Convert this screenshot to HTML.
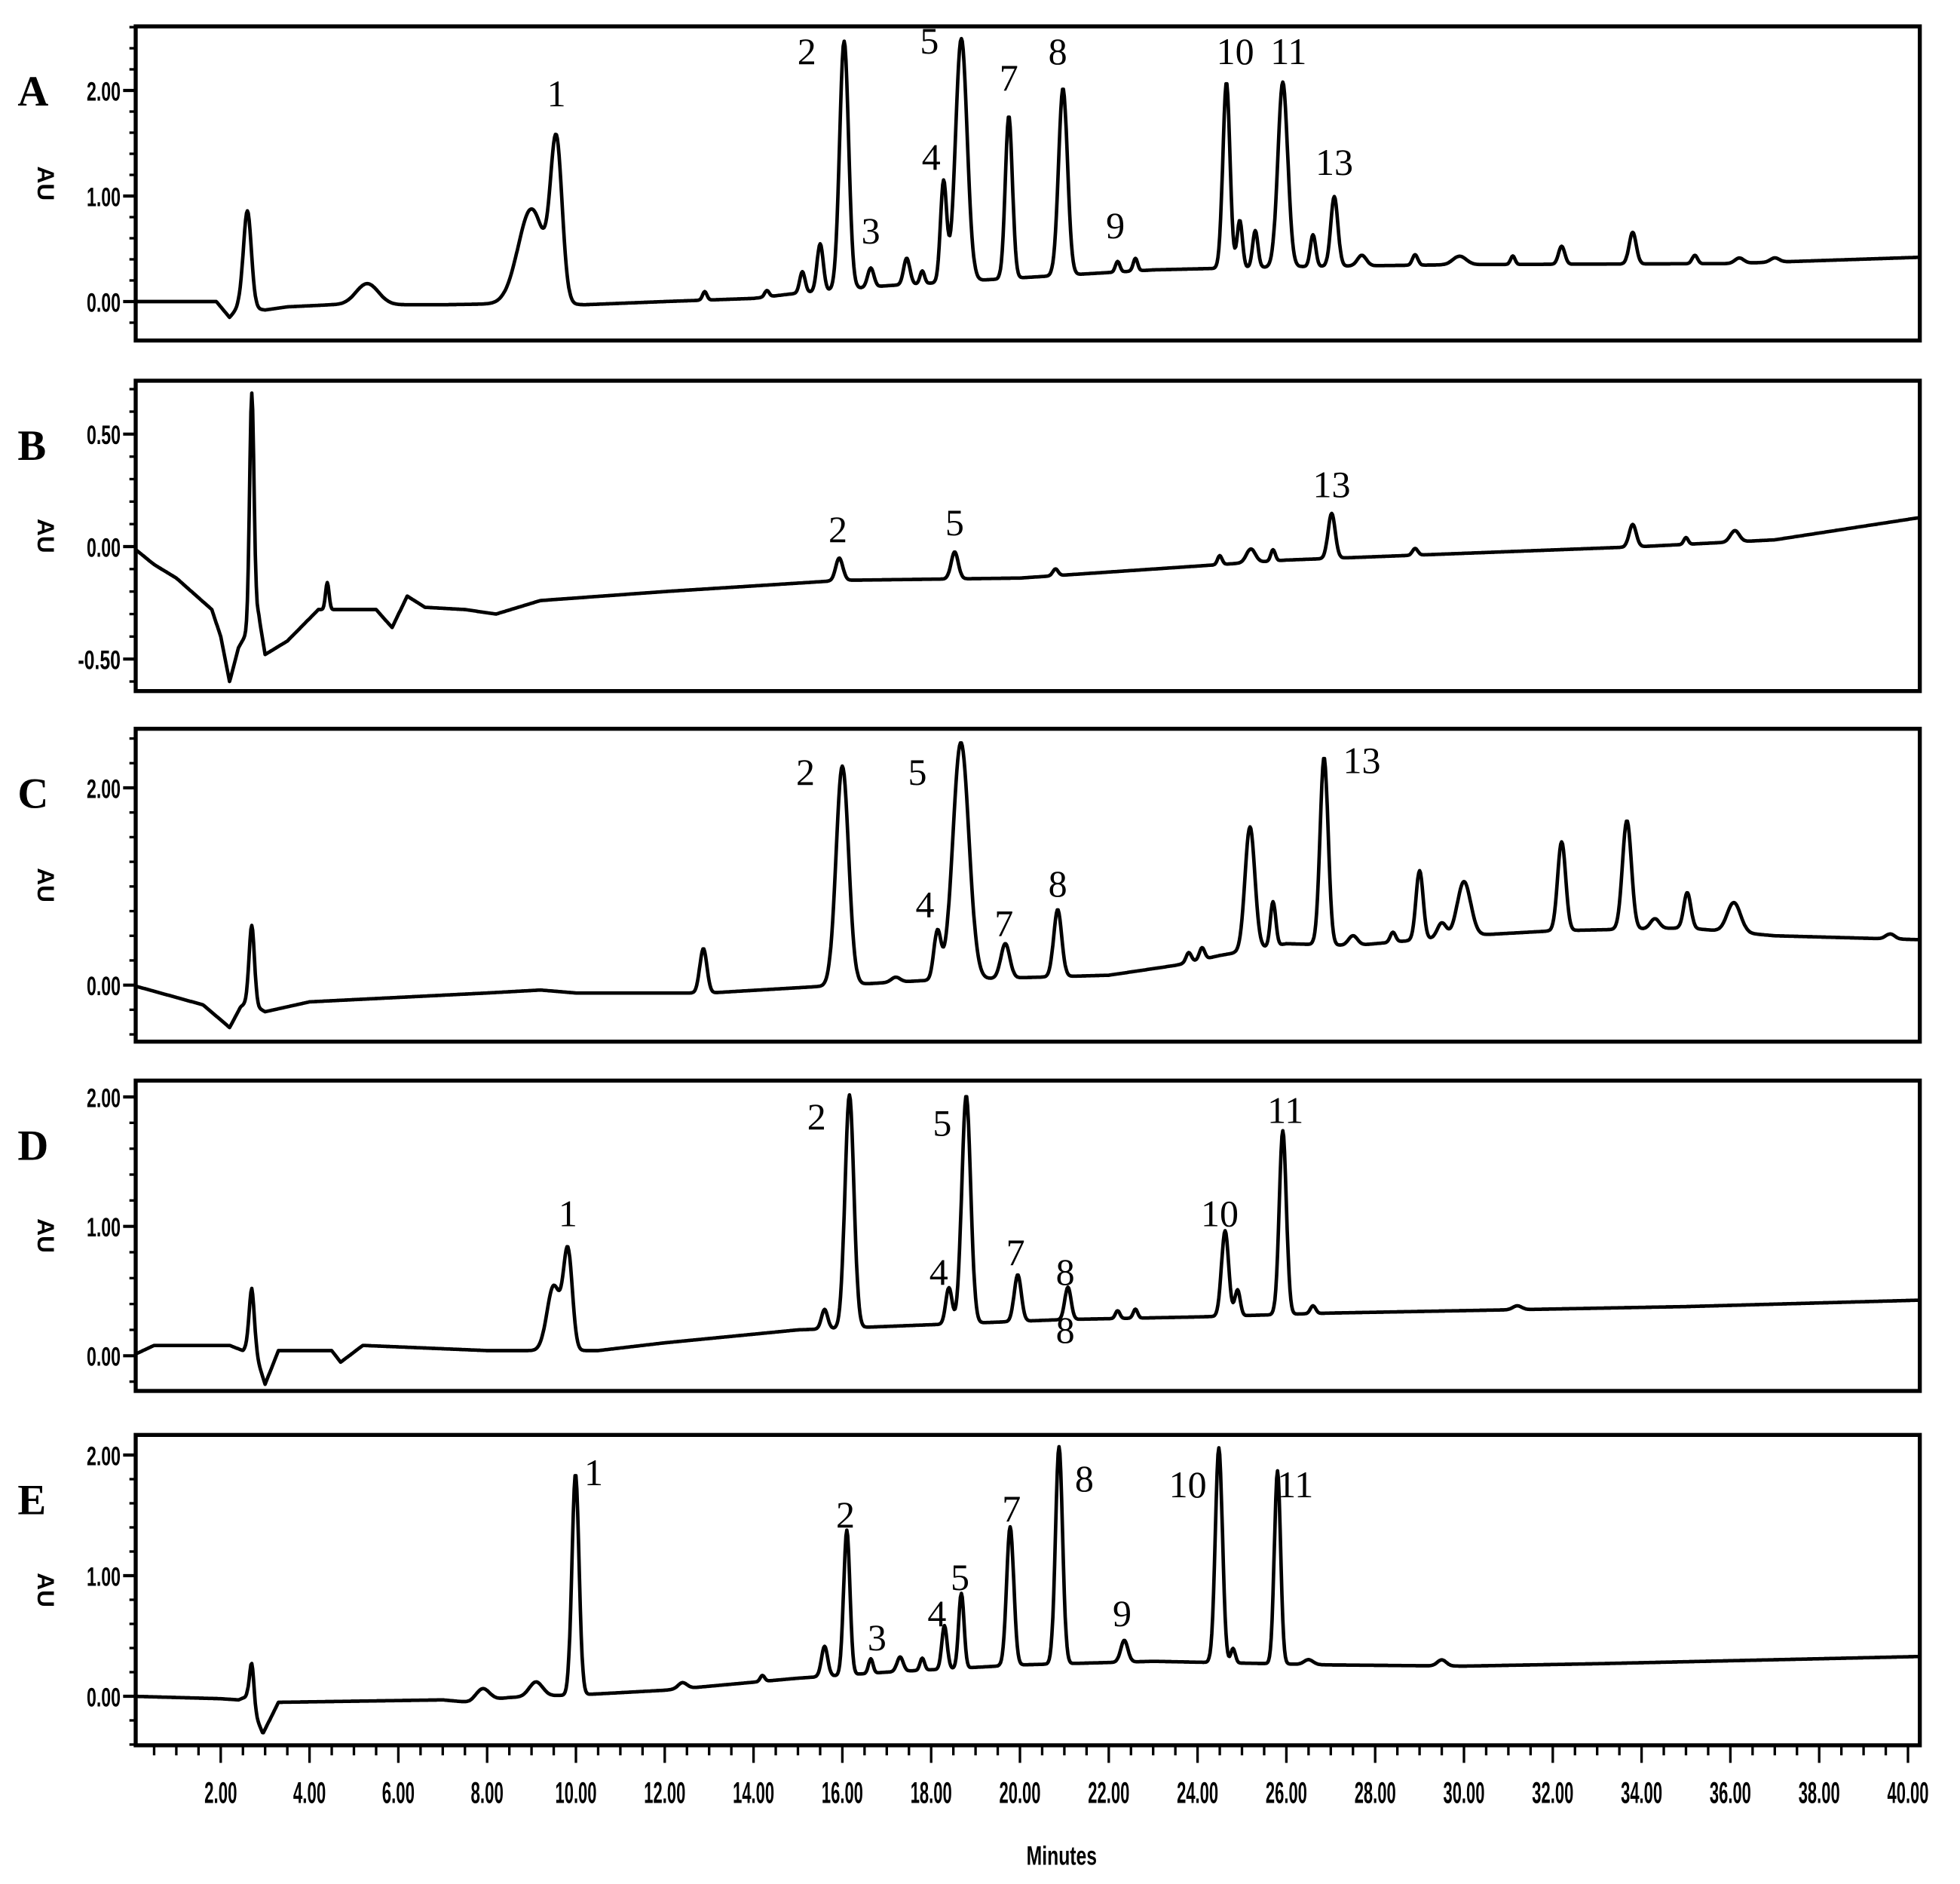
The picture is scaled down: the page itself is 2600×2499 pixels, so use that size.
<!DOCTYPE html>
<html><head><meta charset="utf-8"><style>
html,body{margin:0;padding:0;background:#fff;}
svg{display:block;}
text{font-family:"Liberation Sans",sans-serif;}
.num{font-weight:bold;fill:#000;}
.pk{font-family:"Liberation Serif",serif;font-size:30px;fill:#000;}
.pl{font-family:"Liberation Serif",serif;font-size:34px;font-weight:bold;fill:#000;}
</style></head><body>
<svg id="chart" width="2600" height="2499" viewBox="0 0 1560 1499.4" preserveAspectRatio="none" xmlns="http://www.w3.org/2000/svg"></svg>
<script>
// ---- data ----
const panelLetters = ["A","B","C","D","E"];
const baseA = [[0,0],[1.9,0],[2.2,-0.15],[2.4,-0.05],[3.0,-0.08],[3.5,-0.05],[4.5,-0.03],[7,-0.03],[8.5,-0.02],[10.2,-0.03],[12,0.0],[14,0.03],[15,0.08],[17,0.15],[19,0.2],[21,0.25],[23,0.3],[26,0.33],[30,0.35],[36,0.36],[40.3,0.42]];
const peaksA = [[2.6,0.92,0.09],[5.3,0.2,0.25],[9.0,0.9,0.3],[9.56,1.45,0.13],[12.9,0.08,0.05],[14.3,0.06,0.05],[15.1,0.2,0.06],[15.5,0.45,0.07],[16.04,2.35,0.1],[16.64,0.18,0.07],[17.45,0.25,0.07],[17.8,0.12,0.05],[18.28,0.95,0.07],[18.68,2.3,0.13],[19.75,1.54,0.08],[20.97,1.77,0.1],[22.2,0.1,0.05],[22.6,0.12,0.05],[24.65,1.76,0.08],[24.95,0.45,0.06],[25.3,0.35,0.06],[25.92,1.75,0.11],[26.6,0.3,0.06],[27.08,0.66,0.08],[27.7,0.1,0.1],[28.9,0.1,0.06],[29.9,0.08,0.15],[31.1,0.08,0.05],[32.2,0.17,0.07],[33.8,0.3,0.08],[35.2,0.08,0.06],[36.2,0.05,0.1],[37.0,0.04,0.1]];
const baseB = [[0,0],[0.5,-0.08],[1,-0.14],[1.8,-0.28],[2.0,-0.4],[2.2,-0.6],[2.4,-0.45],[2.6,-0.38],[2.85,-0.3],[3.0,-0.48],[3.5,-0.42],[4.2,-0.28],[5.5,-0.28],[5.86,-0.36],[6.2,-0.22],[6.6,-0.27],[7.5,-0.28],[8.2,-0.3],[9.2,-0.24],[12,-0.2],[16,-0.15],[20,-0.14],[23,-0.1],[26,-0.06],[30,-0.03],[34,0.0],[37,0.03],[40.3,0.13]];
const peaksB = [[2.7,1.03,0.05],[4.4,0.12,0.04],[15.93,0.1,0.08],[18.53,0.12,0.08],[20.8,0.03,0.06],[24.5,0.04,0.05],[25.2,0.06,0.1],[25.7,0.05,0.05],[27.02,0.2,0.08],[28.9,0.03,0.06],[33.8,0.1,0.08],[35.0,0.03,0.05],[36.1,0.05,0.1]];
const baseC = [[0,0],[1.6,-0.2],[2.2,-0.43],[2.45,-0.22],[2.6,-0.17],[3.0,-0.27],[4,-0.17],[8,-0.08],[9.2,-0.05],[10,-0.08],[13,-0.08],[16,0],[18,0.05],[22,0.1],[23.5,0.2],[24.5,0.3],[26,0.42],[27.5,0.4],[30,0.5],[32,0.55],[35,0.58],[37,0.5],[40.3,0.46]];
const peaksC = [[2.7,0.8,0.06],[12.87,0.45,0.08],[16.0,2.22,0.14],[17.2,0.05,0.1],[18.14,0.48,0.08],[18.67,2.4,0.18],[19.67,0.35,0.1],[20.85,0.68,0.09],[23.8,0.1,0.06],[24.1,0.12,0.06],[25.18,1.25,0.11],[25.7,0.45,0.06],[26.85,1.9,0.09],[27.5,0.1,0.1],[28.4,0.1,0.06],[29.0,0.7,0.08],[29.5,0.15,0.1],[30.0,0.55,0.15],[32.2,0.9,0.09],[33.67,1.1,0.1],[34.3,0.1,0.1],[35.03,0.36,0.08],[36.08,0.3,0.15],[39.6,0.05,0.1]];
const baseD = [[0,0],[0.5,0.08],[2.2,0.08],[2.5,0.04],[2.7,0.1],[3.0,-0.22],[3.3,0.04],[4.5,0.04],[4.7,-0.05],[5.2,0.08],[8,0.04],[10.5,0.04],[12,0.1],[15,0.2],[18,0.24],[21,0.28],[24,0.3],[27,0.33],[35,0.38],[40.3,0.43]];
const peaksD = [[2.7,0.42,0.06],[9.5,0.5,0.15],[9.82,0.75,0.1],[15.6,0.15,0.07],[16.16,1.8,0.1],[18.4,0.28,0.07],[18.79,1.76,0.1],[19.95,0.36,0.08],[21.08,0.25,0.07],[22.2,0.06,0.05],[22.6,0.07,0.05],[24.62,0.66,0.08],[24.9,0.2,0.06],[25.92,1.42,0.08],[26.6,0.06,0.06],[31.2,0.03,0.1]];
const baseE = [[0,0],[2,-0.02],[2.4,-0.03],[2.6,0],[2.95,-0.31],[3.3,-0.05],[7,-0.03],[7.6,-0.05],[8.5,-0.01],[10.5,0.02],[12,0.05],[15,0.15],[17,0.2],[20,0.26],[23,0.29],[27,0.26],[30,0.25],[33,0.27],[40.3,0.33]];
const peaksE = [[2.7,0.36,0.05],[7.9,0.1,0.15],[9.1,0.12,0.15],[9.99,1.83,0.08],[12.4,0.05,0.1],[14.2,0.05,0.05],[15.6,0.25,0.07],[16.1,1.2,0.07],[16.64,0.12,0.05],[17.3,0.12,0.07],[17.8,0.1,0.05],[18.3,0.36,0.06],[18.68,0.62,0.06],[19.78,1.15,0.08],[20.88,1.8,0.08],[22.35,0.18,0.08],[24.48,1.78,0.08],[24.8,0.12,0.05],[25.8,1.6,0.07],[26.5,0.04,0.1],[29.5,0.05,0.1]];
const yTicksA = [0,1,2], yTicksB = [-0.5,0,0.5], yTicksC = [0,2], yTicksD = [0,1,2], yTicksE = [0,1,2];
const xTicks = [2,4,6,8,10,12,14,16,18,20,22,24,26,28,30,32,34,36,38,40];
// peak labels: [label, time, AU]
const labA = [["1",9.56,1.85],["2",15.2,2.25],["3",16.64,0.55],["4",18.0,1.25],["5",17.96,2.35],["7",19.75,2.0],["8",20.85,2.25],["9",22.15,0.6],["10",24.85,2.25],["11",26.05,2.25],["13",27.08,1.2]];
const labB = [["2",15.9,0.02],["5",18.53,0.05],["13",27.02,0.22]];
const labC = [["2",15.17,2.03],["5",17.69,2.03],["4",17.86,0.69],["7",19.64,0.5],["8",20.85,0.9],["13",27.7,2.15]];
const labD = [["1",9.82,1.0],["2",15.42,1.75],["5",18.25,1.7],["4",18.17,0.55],["7",19.9,0.7],["8",21.02,0.55],["8",21.02,0.1],["10",24.5,1.0],["11",25.98,1.8]];
const labE = [["1",10.4,1.75],["2",16.07,1.4],["3",16.78,0.38],["4",18.13,0.58],["5",18.65,0.88],["7",19.81,1.45],["8",21.45,1.7],["9",22.3,0.58],["10",23.78,1.65],["11",26.2,1.65]];

// ---- geometry ----
const panels = [
 {base:baseA,peaks:peaksA,ticks:yTicksA,labs:labA,top:21,bot:271,zero:240,k:84,minor:0.2},
 {base:baseB,peaks:peaksB,ticks:yTicksB,labs:labB,top:303,bot:550,zero:435,k:179,minor:0.1},
 {base:baseC,peaks:peaksC,ticks:yTicksC,labs:labC,top:580,bot:829,zero:784,k:78.5,minor:0.25},
 {base:baseD,peaks:peaksD,ticks:yTicksD,labs:labD,top:860,bot:1107,zero:1079,k:103,minor:0.2},
 {base:baseE,peaks:peaksE,ticks:yTicksE,labs:labE,top:1142,bot:1389,zero:1350,k:96,minor:0.2}
];
const L=108, R=1528;
const xs = t => 105 + 35.34*t;
const NS="http://www.w3.org/2000/svg";
const svg=document.getElementById('chart');
function mk(tag,attrs,parent){const e=document.createElementNS(NS,tag);for(const k in attrs)e.setAttribute(k,attrs[k]);(parent||svg).appendChild(e);return e;}
function interp(b,t){for(let i=0;i<b.length-1;i++){if(t<=b[i+1][0]){const f=(t-b[i][0])/(b[i+1][0]-b[i][0]);return b[i][1]+f*(b[i+1][1]-b[i][1]);}}return b[b.length-1][1];}
const fmt=v=>(v<0?"-":"")+Math.abs(v).toFixed(2);

panels.forEach((p,pi)=>{
 const ys=v=>p.zero-p.k*v;
 const g=mk('g',{});
 
 
 const cid='clip'+pi;
 const cp=mk('clipPath',{id:cid},g);mk('rect',{x:L,y:p.top,width:R-L,height:p.bot-p.top},cp);
 let d="";
 for(let t=0;t<=40.3;t+=0.02){
  let v=interp(p.base,t);
  p.peaks.forEach(k=>{v+=k[1]*Math.exp(-((t-k[0])**2)/(2*k[2]*k[2]));});
  d+=(d?"L":"M")+xs(t).toFixed(1)+","+ys(v).toFixed(1);
 }
 const path=mk('path',{d:d,fill:'none',stroke:'#000','stroke-width':2.8,'stroke-linejoin':'round','clip-path':'url(#'+cid+')'},g);
 
 
 const fr=mk('rect',{x:L,y:p.top,width:R-L,height:p.bot-p.top,fill:'none',stroke:'#000','stroke-width':3.2},g);
 
 
 const vTop=(p.zero-p.top)/p.k, vBot=(p.zero-p.bot)/p.k;
 for(let v=Math.ceil(vBot/p.minor)*p.minor; v<=vTop; v+=p.minor){
  mk('line',{x1:L-5,x2:L,y1:ys(v),y2:ys(v),stroke:'#000','stroke-width':2},g);
 }
 p.ticks.forEach(v=>{
  mk('line',{x1:L-10,x2:L,y1:ys(v),y2:ys(v),stroke:'#000','stroke-width':2.5},g);
  const tx=mk('text',{x:L-12,y:ys(v)+8,'text-anchor':'end','font-size':21,class:'num',textLength:v<0?34:27,lengthAdjust:'spacingAndGlyphs'},g);
  tx.textContent=fmt(v);
  
  
 });
 const au=mk('text',{x:0,y:0,'font-size':19,class:'num','text-anchor':'middle',transform:`translate(30,${(p.top+p.bot)/2}) rotate(90)`},g);
 au.textContent="AU";
 
 
 const pl=mk('text',{x:14,y:p.top+63,class:'pl'},g);
 pl.textContent=panelLetters[pi];
 
 
 p.labs.forEach(l=>{
  const t=mk('text',{x:xs(l[1]),y:ys(l[2]),'text-anchor':'middle',class:'pk'},g);
  t.textContent=l[0];
  
  
 });
});
const bot=panels[4].bot;
for(let t=0.5;t<=40.01;t+=0.5){
 const major=Math.abs(t/2-Math.round(t/2))<1e-6;
 mk('line',{x1:xs(t),x2:xs(t),y1:bot,y2:bot+(major?14:8),stroke:'#000','stroke-width':2});
}
xTicks.forEach(t=>{
 const tx=mk('text',{x:xs(t),y:bot+46,'text-anchor':'middle','font-size':24,class:'num',textLength:t<10?26:33,lengthAdjust:'spacingAndGlyphs'});
 tx.textContent=t.toFixed(2);
 
 
});
const xt=mk('text',{x:845,y:1484,'text-anchor':'middle','font-size':21,class:'num',textLength:56,lengthAdjust:'spacingAndGlyphs'});
xt.textContent="Minutes";


</script>
</body></html>
